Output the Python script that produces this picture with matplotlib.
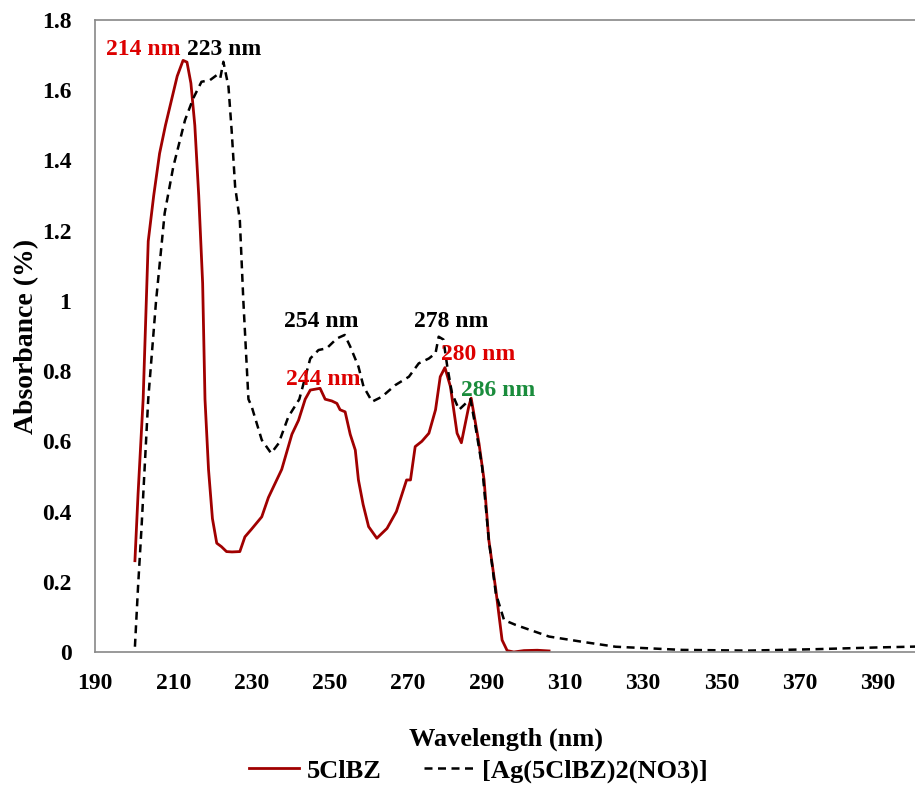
import numpy as np
import matplotlib
matplotlib.use("Agg")
import matplotlib.pyplot as plt

plt.rcParams["font.family"] = ["Liberation Serif", "DejaVu Serif"]
plt.rcParams["font.weight"] = "bold"

# 5ClBZ (solid dark red)
wl_ligand = [200.2, 201.0, 202.3, 203.6, 205.0, 206.5, 208.0, 209.5, 211.0, 212.5, 213.5,
             214.5, 215.5, 216.5, 217.5, 218.1, 219.0, 220.0, 221.1, 222.3, 223.6, 225.0,
             227.0, 228.3, 230.0, 232.6, 234.3, 236.0, 237.7, 240.3, 242.0, 243.7, 245.0,
             247.5, 248.8, 250.5, 251.8, 252.6, 253.9, 255.2, 256.5, 257.3, 258.5, 259.9,
             262.0, 264.6, 267.0, 269.6, 270.6, 271.8, 273.5, 275.3, 277.0, 278.2, 279.4,
             280.8, 282.5, 283.6, 285.5, 286.1, 288.1, 289.4, 290.6, 292.4, 294.0, 295.3,
             297.0, 299.6, 303.0, 306.0]
abs_ligand = [0.26, 0.45, 0.72, 1.17, 1.30, 1.42, 1.50, 1.57, 1.64, 1.685, 1.68,
              1.62, 1.50, 1.30, 1.05, 0.72, 0.52, 0.38, 0.31, 0.30, 0.286, 0.285,
              0.286, 0.328, 0.35, 0.385, 0.44, 0.48, 0.52, 0.62, 0.66, 0.72, 0.746,
              0.751, 0.72, 0.715, 0.708, 0.69, 0.684, 0.62, 0.575, 0.49, 0.42, 0.357,
              0.324, 0.352, 0.40, 0.49, 0.49, 0.585, 0.60, 0.623, 0.69, 0.784, 0.81,
              0.756, 0.623, 0.596, 0.70, 0.723, 0.594, 0.49, 0.32, 0.177, 0.034, 0.004,
              0.0, 0.004, 0.005, 0.003]

# [Ag(5ClBZ)2(NO3)] (black dashed)
wl_complex = [200.2, 201.0, 201.9, 202.7, 203.6, 205.6, 207.8, 210.0, 213.0, 215.1, 217.2,
              219.4, 221.1, 222.0, 222.8, 224.1, 224.9, 225.8, 227.0, 227.9, 229.2, 230.0,
              232.6, 235.0, 236.9, 239.4, 242.2, 245.0, 247.1, 249.2, 251.8, 253.8, 255.2,
              257.3, 258.6, 260.8, 263.3, 266.7, 270.2, 272.7, 275.3, 277.0, 277.8, 279.0,
              280.0, 281.2, 283.0, 284.7, 285.9, 287.2, 288.9, 290.6, 292.4, 294.5, 297.5,
              306.0, 314.5, 323.0, 340.0, 357.0, 374.0, 390.0, 402.0]
abs_complex = [0.015, 0.186, 0.357, 0.528, 0.72, 1.00, 1.25, 1.382, 1.515, 1.577, 1.624,
               1.629, 1.643, 1.634, 1.681, 1.61, 1.487, 1.325, 1.23, 1.00, 0.72, 0.70,
               0.604, 0.566, 0.594, 0.67, 0.72, 0.836, 0.86, 0.865, 0.893, 0.903, 0.87,
               0.813, 0.756, 0.713, 0.727, 0.76, 0.784, 0.822, 0.836, 0.851, 0.898, 0.89,
               0.813, 0.737, 0.69, 0.708, 0.72, 0.642, 0.528, 0.32, 0.167, 0.091, 0.077,
               0.044, 0.029, 0.015, 0.006, 0.004, 0.008, 0.013, 0.016]

# peak labels: text, x, y, colour
peak_labels = [("214 nm", 202.3, 1.716, "#dd0000"),
               ("223 nm", 223.0, 1.716, "black"),
               ("254 nm", 247.7, 0.94, "black"),
               ("278 nm", 280.9, 0.94, "black"),
               ("280 nm", 287.8, 0.846, "#dd0000"),
               ("244 nm", 248.2, 0.775, "#dd0000"),
               ("286 nm", 292.9, 0.746, "#1a8c3c")]

xticks = np.arange(190, 400, 20)
yticks = [0, 0.2, 0.4, 0.6, 0.8, 1, 1.2, 1.4, 1.6, 1.8]
ytick_labels = ["0", "0.2", "0.4", "0.6", "0.8", "1", "1.2", "1.4", "1.6", "1.8"]

fig = plt.figure(figsize=(9.15, 7.87), dpi=100)
ax = fig.add_axes([95 / 915, 1 - 652 / 787, 822 / 915, 632 / 787])

ax.plot(wl_ligand, abs_ligand, color="#a00000", lw=2.0, label="5ClBZ")
ax.plot(wl_complex, abs_complex, color="black", lw=1.8, ls=(0, (3.2, 2.2)),
        label="[Ag(5ClBZ)2(NO3)]")

for txt, x, y, c in peak_labels:
    ax.text(x, y, txt, color=c, fontsize=17, fontweight="bold",
            ha="center", va="center")

ax.set_xlim(190, 400)
ax.set_ylim(0, 1.8)
ax.set_xticks(xticks)
ax.set_yticks(yticks)
ax.set_yticklabels(ytick_labels)
ax.tick_params(length=0, labelsize=17)
ax.tick_params(axis="x", pad=15)
ax.tick_params(axis="y", pad=17)
for s in ["left", "bottom", "top"]:
    ax.spines[s].set_color("#888888")
    ax.spines[s].set_linewidth(1.2)
ax.spines["right"].set_visible(False)

ax.set_xlabel("Wavelength (nm)", fontsize=19, fontweight="bold", labelpad=24)
ax.set_ylabel("Absorbance (%)", fontsize=20, fontweight="bold", labelpad=2)

fig.legend(loc="center", bbox_to_anchor=(478 / 915, 1 - 771 / 787), ncol=2,
           frameon=False, fontsize=19, handlelength=1.9, columnspacing=1.6,
           handletextpad=0.3, borderpad=0)

fig.savefig("out.png", dpi=100)
